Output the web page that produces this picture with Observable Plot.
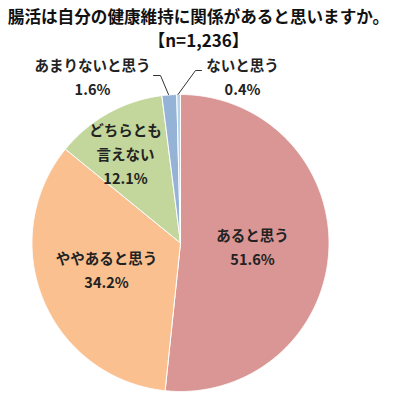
<!DOCTYPE html>
<html>
<head>
<meta charset="utf-8">
<script src="https://cdn.jsdelivr.net/npm/d3@7"></script>
<script src="https://cdn.jsdelivr.net/npm/@observablehq/plot@0.6"></script>
<style>
  html, body { margin: 0; padding: 0; background: #fff; }
  #wrap { width: 397px; height: 400px; overflow: hidden; font-family: "Noto Sans CJK JP", sans-serif; }
  .title { text-align: center; font-weight: bold; font-size: 16.6px; color: #111; line-height: 24px; white-space: nowrap; }
  #t1 { padding-top: 4px; }
  #t2 { font-size: 17px; }
</style>
</head>
<body>
<div id="wrap">
  <div class="title" id="t1">腸活は自分の健康維持に関係があると思いますか。</div>
  <div class="title" id="t2">【n=1,236】</div>
  <div id="chart"></div>
</div>
<script>
const categories = ["あると思う", "ややあると思う", "どちらとも言えない", "あまりないと思う", "ないと思う"];
const labelLines = [["あると思う"], ["ややあると思う"], ["どちらとも", "言えない"], ["あまりないと思う"], ["ないと思う"]];
const values = [51.6, 34.2, 12.1, 1.6, 0.4];
const valueLabels = ["51.6%", "34.2%", "12.1%", "1.6%", "0.4%"];
const colors = ["#D99694", "#FAC090", "#C3D69B", "#95B3D7", "#B7D3EC"];

// layout (page pixels)
const titleH = 52;
const W = 397, H = 400 - titleH;
const cx = 180, cyPage = 242.5, R = 148.5;
const cy = cyPage - titleH;
// label centres in page pixels (first line, then line spacing)
const labelPos = [[252, 236], [106, 259], [125, 131], [92, 66], [242, 66]];
const lineGap = 24;
const leaderPage = [
  [[153, 75], [160, 75], [168, 94]],
  [[201, 70], [195, 70], [177.5, 94]]
];

const toX = px => (px - cx) / R;
const toY = py => (cyPage - py) / R;

const arcs = d3.pie().sort(null).value(d => d)(values);
const pts = [];
arcs.forEach((a, i) => {
  pts.push({k: i, x: 0, y: 0});
  const n = Math.max(2, Math.ceil((a.endAngle - a.startAngle) / 0.005));
  for (let j = 0; j <= n; j++) {
    const t = a.startAngle + (a.endAngle - a.startAngle) * j / n;
    pts.push({k: i, x: Math.sin(t), y: Math.cos(t)});
  }
  pts.push({k: i, x: 0, y: 0});
});

const texts = [];
categories.forEach((c, i) => {
  const [px, py] = labelPos[i];
  labelLines[i].forEach((s, j) => texts.push({x: toX(px), y: toY(py + j * lineGap), s}));
  texts.push({x: toX(px), y: toY(py + labelLines[i].length * lineGap), s: valueLabels[i]});
});

const leaders = [];
leaderPage.forEach((l, i) => l.forEach(([px, py]) => leaders.push({k: i, x: toX(px), y: toY(py)})));

const plot = Plot.plot({
  width: W, height: H,
  margin: 0,
  style: {fontFamily: "'Noto Sans CJK JP', sans-serif", background: "white"},
  x: {domain: [-1, 1], range: [cx - R, cx + R], axis: null},
  y: {domain: [-1, 1], range: [cy + R, cy - R], axis: null},
  color: {domain: d3.range(categories.length), range: colors},
  marks: [
    Plot.line(pts, {x: "x", y: "y", z: "k", fill: d => d.k, stroke: "white", strokeWidth: 1, curve: "linear"}),
    Plot.line(leaders, {x: "x", y: "y", z: "k", stroke: "#333", strokeWidth: 1}),
    Plot.text(texts, {x: "x", y: "y", text: "s", fontSize: 14.5, fontWeight: "bold", fill: "#222"})
  ]
});
document.getElementById("chart").appendChild(plot);
</script>
</body>
</html>
